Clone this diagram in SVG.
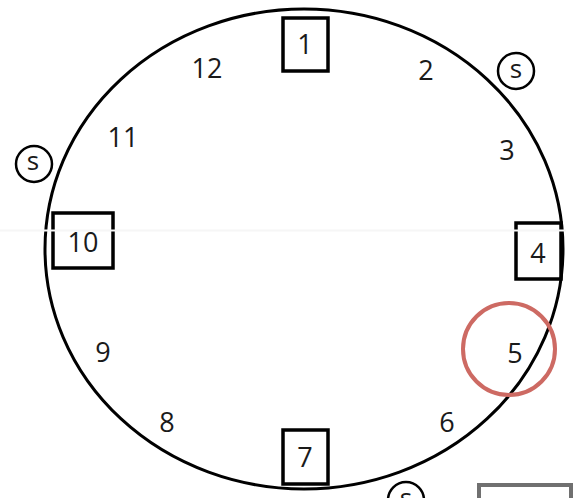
<svg xmlns="http://www.w3.org/2000/svg" width="577" height="498" viewBox="0 0 577 498">
<style>
.ln{fill:none;stroke:#000;stroke-width:3}
.box{fill:none;stroke:#000;stroke-width:3.5}
.sc{fill:none;stroke:#000;stroke-width:2.5}
.t{font-family:"Open Sans","Noto Sans",sans-serif;font-size:27px;fill:#1a1a1a;text-anchor:middle}
.s{font-family:"Open Sans","Noto Sans",sans-serif;font-size:26px;fill:#1a1a1a;text-anchor:middle}
</style>
<rect width="577" height="498" fill="#fff"/>
<g id="connectors">
<ellipse class="ln" cx="304" cy="249" rx="259" ry="240"/>
</g>
<g id="n1"><rect class="box" x="283" y="18" width="45" height="53"/><text class="t" x="305" y="54">1</text></g>
<g id="n4"><rect class="box" x="516" y="223" width="45" height="56"/><text class="t" x="538" y="263">4</text></g>
<g id="n7"><rect class="box" x="283" y="430" width="45" height="54"/><text class="t" x="305" y="467">7</text></g>
<g id="n10"><rect class="box" x="53" y="213" width="60" height="55"/><text class="t" x="83" y="252">10</text></g>
<g id="n2"><text class="t" x="426" y="80">2</text></g>
<g id="n3"><text class="t" x="507" y="160">3</text></g>
<g id="n5"><text class="t" x="515" y="363">5</text></g>
<g id="n6"><text class="t" x="447" y="432">6</text></g>
<g id="n8"><text class="t" x="167" y="432">8</text></g>
<g id="n9"><text class="t" x="103" y="362">9</text></g>
<g id="n11"><text class="t" x="123" y="147">11</text></g>
<g id="n12"><text class="t" x="207" y="78">12</text></g>
<g id="sL"><circle class="sc" cx="34" cy="164" r="18"/><text class="s" x="33" y="170">s</text></g>
<g id="sR"><circle class="sc" cx="516" cy="71" r="18"/><text class="s" x="516" y="78">s</text></g>
<g id="sB"><circle class="sc" cx="406" cy="500" r="18"/><text class="s" x="406" y="507">s</text></g>
<g id="highlight"><circle cx="509" cy="349" r="46" fill="none" stroke="#cd6a63" stroke-width="4"/></g>
<g id="grayBox"><rect x="479" y="485" width="92" height="30" fill="none" stroke="#707070" stroke-width="4"/></g>
<rect x="0" y="229.5" width="566" height="2" fill="#f6f6f6"/>
</svg>
